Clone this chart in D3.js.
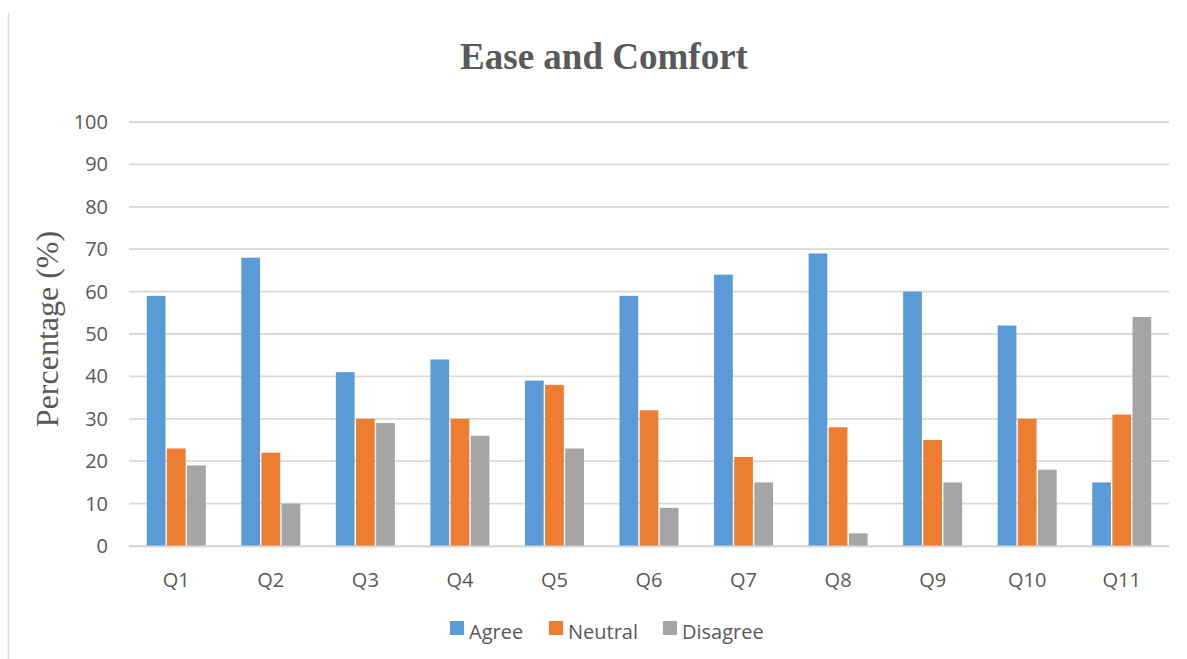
<!DOCTYPE html>
<html>
<head>
<meta charset="utf-8">
<script src="https://cdn.jsdelivr.net/npm/d3@7"></script>
<style>
  body { margin: 0; background: #fff; }
  svg { display: block; }
</style>
</head>
<body>
<div id="chart"></div>
<script>
var categories = ["Q1", "Q2", "Q3", "Q4", "Q5", "Q6", "Q7", "Q8", "Q9", "Q10", "Q11"];
var seriesNames = ["Agree", "Neutral", "Disagree"];
var agree = [59, 68, 41, 44, 39, 59, 64, 69, 60, 52, 15];
var neutral = [23, 22, 30, 30, 38, 32, 21, 28, 25, 30, 31];
var disagree = [19, 10, 29, 26, 23, 9, 15, 3, 15, 18, 54];
var yTicks = [0, 10, 20, 30, 40, 50, 60, 70, 80, 90, 100];
var colors = ["#5b9bd5", "#ed7d31", "#a5a5a5"];

var width = 1187, height = 659;
var margin = {top: 122, right: 18, bottom: 113, left: 129};
var tickFont = "'Open Sans', 'Noto Sans', sans-serif";

var svg = d3.select("#chart").append("svg")
    .attr("width", width)
    .attr("height", height);

// outer frame line on the left
svg.append("line")
    .attr("x1", 8.5).attr("x2", 8.5)
    .attr("y1", 13).attr("y2", height)
    .attr("stroke", "#d9d9d9").attr("stroke-width", 1.5);

var x = d3.scaleBand()
    .domain(categories)
    .range([margin.left, width - margin.right]);

var x1 = d3.scaleBand()
    .domain(seriesNames)
    .range([0, 59])
    .paddingInner(0.07);

var y = d3.scaleLinear()
    .domain([0, 100])
    .range([height - margin.bottom, margin.top]);

// gridlines
svg.append("g")
    .selectAll("line")
    .data(yTicks)
    .enter().append("line")
    .attr("x1", margin.left).attr("x2", width - margin.right)
    .attr("y1", function(d) { return y(d); })
    .attr("y2", function(d) { return y(d); })
    .attr("stroke", "#d9d9d9").attr("stroke-width", 1.8);

// y axis labels
var yAxis = svg.append("g")
    .attr("transform", "translate(" + (margin.left - 21) + ",0)")
    .call(d3.axisLeft(y).tickValues(yTicks).tickSize(0).tickPadding(0));
yAxis.select(".domain").remove();
yAxis.selectAll("text")
    .attr("font-family", tickFont)
    .attr("font-size", 20)
    .attr("fill", "#595959");

// bars
var rows = categories.map(function(c, i) {
    return {cat: c, values: [agree[i], neutral[i], disagree[i]]};
});

var groups = svg.append("g")
    .selectAll("g")
    .data(rows)
    .enter().append("g")
    .attr("transform", function(d) {
        return "translate(" + (x(d.cat) + (x.bandwidth() - 59) / 2) + ",0)";
    });

groups.selectAll("rect")
    .data(function(d) {
        return d.values.map(function(v, k) { return {name: seriesNames[k], value: v, k: k}; });
    })
    .enter().append("rect")
    .attr("x", function(d) { return x1(d.name); })
    .attr("width", x1.bandwidth())
    .attr("y", function(d) { return y(d.value); })
    .attr("height", function(d) { return y(0) - y(d.value); })
    .attr("fill", function(d) { return colors[d.k]; });

// x axis
var xAxis = svg.append("g")
    .attr("transform", "translate(0," + y(0) + ")")
    .call(d3.axisBottom(x).tickSize(0).tickPadding(27));
xAxis.select(".domain")
    .attr("stroke", "#d9d9d9").attr("stroke-width", 1.8);
xAxis.selectAll("text")
    .attr("font-family", tickFont)
    .attr("font-size", 20)
    .attr("fill", "#595959");

// title
svg.append("text")
    .attr("x", 604)
    .attr("y", 69)
    .attr("text-anchor", "middle")
    .attr("font-family", "'Liberation Serif', 'Times New Roman', serif")
    .attr("font-weight", "bold")
    .attr("font-size", 37)
    .attr("fill", "#595959")
    .text("Ease and Comfort");

// y axis title
svg.append("text")
    .attr("transform", "translate(58," + 329 + ") rotate(-90)")
    .attr("text-anchor", "middle")
    .attr("font-family", "'Liberation Serif', 'Times New Roman', serif")
    .attr("font-size", 32)
    .attr("fill", "#595959")
    .text("Percentage (%)");

// legend
var legendX = [450, 549, 663];
var legend = svg.append("g")
    .selectAll("g")
    .data(seriesNames)
    .enter().append("g")
    .attr("transform", function(d, i) { return "translate(" + legendX[i] + ",621)"; });

legend.append("rect")
    .attr("width", 14).attr("height", 14)
    .attr("fill", function(d, i) { return colors[i]; });

legend.append("text")
    .attr("x", 19)
    .attr("y", 18)
    .attr("font-family", tickFont)
    .attr("font-size", 20)
    .attr("fill", "#595959")
    .text(function(d) { return d; });
</script>
</body>
</html>
